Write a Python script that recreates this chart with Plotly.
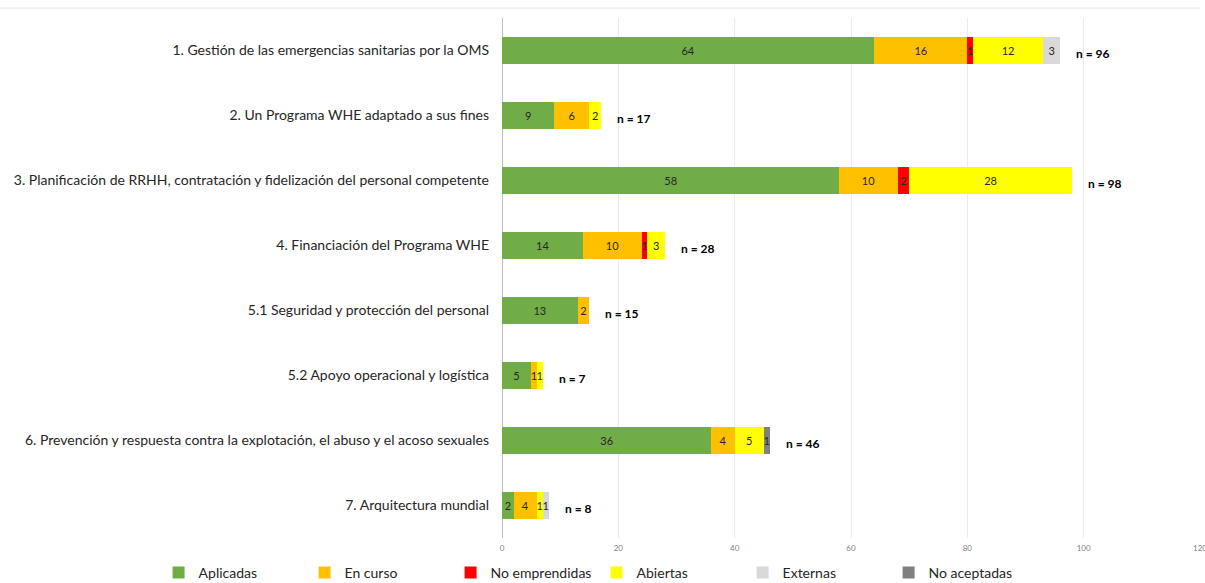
import plotly.graph_objects as go

categories = [
    "1. Gestión de las emergencias sanitarias por la OMS",
    "2. Un Programa WHE adaptado a sus fines",
    "3. Planificación de RRHH, contratación y fidelización del personal competente",
    "4. Financiación del Programa WHE",
    "5.1 Seguridad y protección del personal",
    "5.2 Apoyo operacional y logística",
    "6. Prevención y respuesta contra la explotación, el abuso y el acoso sexuales",
    "7. Arquitectura mundial",
]
aplicadas = [64, 9, 58, 14, 13, 5, 36, 2]
en_curso = [16, 6, 10, 10, 2, 1, 4, 4]
no_emprendidas = [1, 0, 2, 1, 0, 0, 0, 0]
abiertas = [12, 2, 28, 3, 0, 1, 5, 1]
externas = [3, 0, 0, 0, 0, 0, 0, 1]
no_aceptadas = [0, 0, 0, 0, 0, 0, 1, 0]
x_ticks = [0, 20, 40, 60, 80, 100, 120]

series = [
    ("Aplicadas", aplicadas, "#70AD47"),
    ("En curso", en_curso, "#FFC000"),
    ("No emprendidas", no_emprendidas, "#FF0000"),
    ("Abiertas", abiertas, "#FFFF00"),
    ("Externas", externas, "#D9D9D9"),
    ("No aceptadas", no_aceptadas, "#808080"),
]

FONT = "Lato"
fig = go.Figure()
for name, vals, color in series:
    fig.add_trace(go.Bar(
        y=categories, x=vals, name=name, orientation="h",
        marker=dict(color=color, line=dict(width=0)),
        text=[str(v) if v else "" for v in vals],
        textposition="inside", insidetextanchor="middle",
        textfont=dict(family=FONT, size=11, color="#262626"),
        width=0.42,
    ))

totals = [sum(v) for v in zip(aplicadas, en_curso, no_emprendidas, abiertas, externas, no_aceptadas)]
for cat, t in zip(categories, totals):
    fig.add_annotation(x=t, y=cat, text=f"<b>n = {t}</b>", showarrow=False,
                       xanchor="left", xshift=14, yshift=-3,
                       font=dict(family=FONT, size=12, color="#000000"))

fig.update_layout(
    barmode="stack",
    width=1205, height=583,
    margin=dict(l=502, r=5, t=18, b=45, autoexpand=False),
    plot_bgcolor="white", paper_bgcolor="white",
    font=dict(family=FONT, size=13, color="#262626"),
    uniformtext=dict(minsize=11, mode="show"),
    legend=dict(orientation="h", x=-0.492, y=-0.067, xref="paper", yref="paper",
                xanchor="left", yanchor="middle", bgcolor="rgba(0,0,0,0)",
                entrywidth=101, entrywidthmode="pixels", itemwidth=30,
                font=dict(family=FONT, size=14, color="#262626"),
                traceorder="normal"),
    shapes=[dict(type="line", xref="paper", yref="paper", x0=-0.72, x1=1.0,
                 y0=1.019, y1=1.019, line=dict(color="#E6E6E6", width=1))],
)
fig.update_xaxes(range=[0, 120], tickvals=x_ticks, showgrid=True, gridcolor="#EBEBEB",
                 zeroline=True, zerolinecolor="#BFBFBF", zerolinewidth=1,
                 ticklabeloverflow="allow", ticklabelstandoff=4,
                 tickfont=dict(family=FONT, size=8, color="#7F7F7F"), ticks="")
fig.update_yaxes(autorange="reversed", showgrid=False, ticks="", ticklabelstandoff=12,
                 tickfont=dict(family=FONT, size=14, color="#262626"))

fig.write_html("out.html")
